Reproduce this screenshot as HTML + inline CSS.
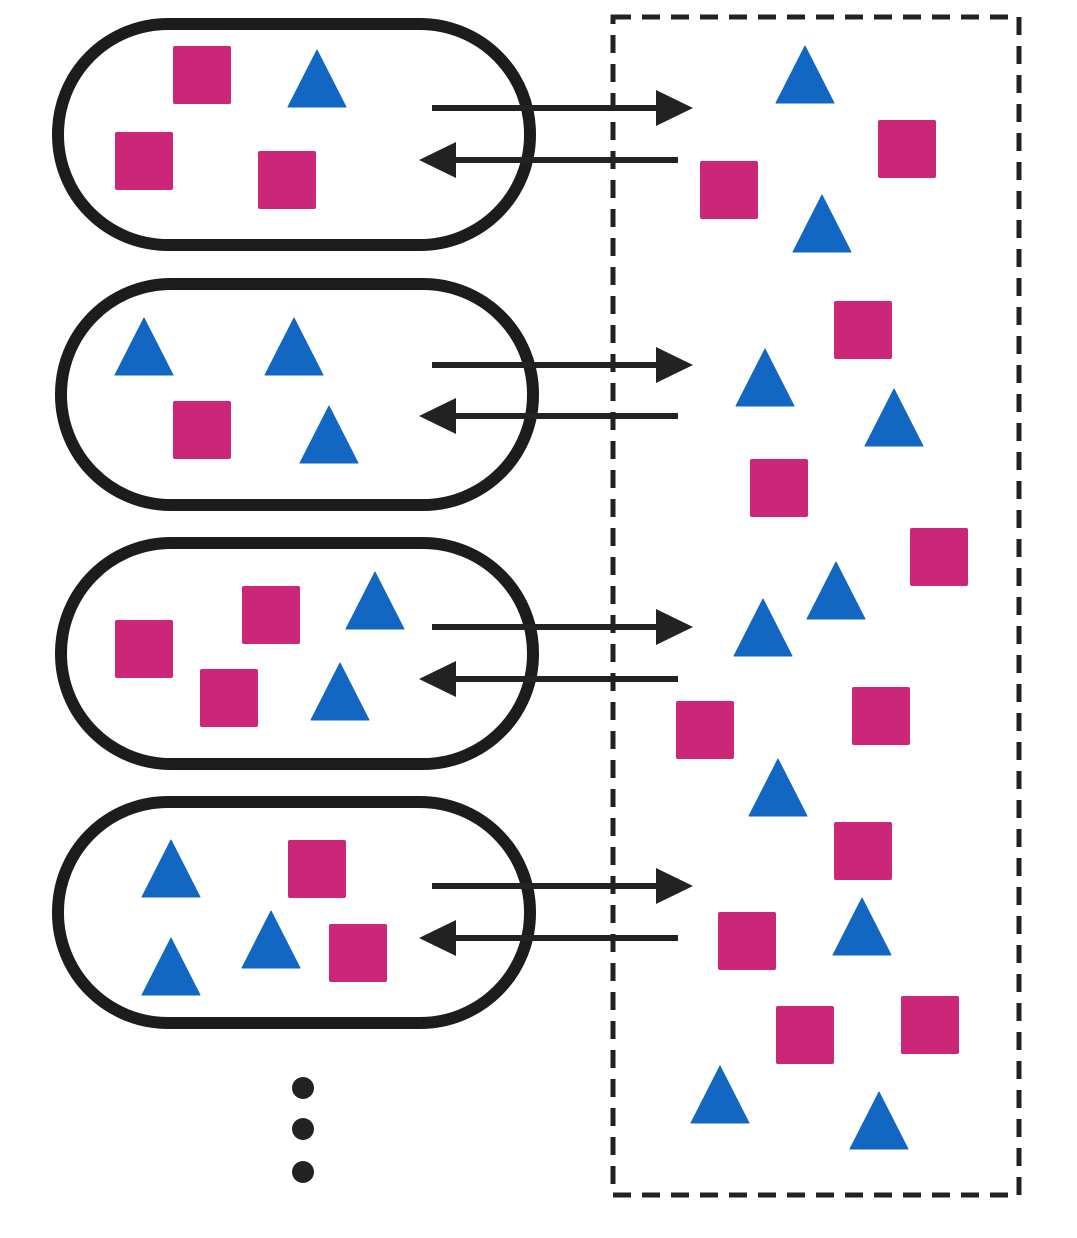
<!DOCTYPE html>
<html><head><meta charset="utf-8"><style>html,body{margin:0;padding:0;background:#fff}svg{display:block}</style></head>
<body>
<svg width="1077" height="1238" viewBox="0 0 1077 1238" xmlns="http://www.w3.org/2000/svg">
<defs>
<rect id="sq" width="58" height="58" rx="2" fill="#cc2678"/>
<polygon id="tr" points="29,0 58,57 0,57" fill="#1167c2" stroke="#1167c2" stroke-width="1" stroke-linejoin="round"/>
</defs>
<!-- dashed box -->
<rect x="613" y="17" width="406" height="1178" fill="none" stroke="#222" stroke-width="5" stroke-dasharray="18,11"/>
<!-- capsules -->
<g fill="none" stroke="#1c1c1c" stroke-width="12">
<rect x="58" y="24" width="472" height="221" rx="110"/>
<rect x="61" y="284" width="472" height="221" rx="110"/>
<rect x="61" y="543" width="472" height="221" rx="110"/>
<rect x="58" y="802" width="472" height="221" rx="110"/>
</g>
<!-- arrows -->
<g fill="#222" stroke="#222">
<g transform="translate(0,108)"><line x1="432" y1="0" x2="662" y2="0" stroke-width="6"/><polygon points="656,-18 693,0 656,18" stroke="none"/></g>
<g transform="translate(0,160)"><line x1="678" y1="0" x2="450" y2="0" stroke-width="6"/><polygon points="456,-18 419,0 456,18" stroke="none"/></g>
<g transform="translate(0,365)"><line x1="432" y1="0" x2="662" y2="0" stroke-width="6"/><polygon points="656,-18 693,0 656,18" stroke="none"/></g>
<g transform="translate(0,416)"><line x1="678" y1="0" x2="450" y2="0" stroke-width="6"/><polygon points="456,-18 419,0 456,18" stroke="none"/></g>
<g transform="translate(0,627)"><line x1="432" y1="0" x2="662" y2="0" stroke-width="6"/><polygon points="656,-18 693,0 656,18" stroke="none"/></g>
<g transform="translate(0,679)"><line x1="678" y1="0" x2="450" y2="0" stroke-width="6"/><polygon points="456,-18 419,0 456,18" stroke="none"/></g>
<g transform="translate(0,886)"><line x1="432" y1="0" x2="662" y2="0" stroke-width="6"/><polygon points="656,-18 693,0 656,18" stroke="none"/></g>
<g transform="translate(0,938)"><line x1="678" y1="0" x2="450" y2="0" stroke-width="6"/><polygon points="456,-18 419,0 456,18" stroke="none"/></g>
</g>
<!-- capsule contents -->
<use href="#sq" x="173" y="46"/><use href="#tr" x="288" y="50"/><use href="#sq" x="115" y="132"/><use href="#sq" x="258" y="151"/>
<use href="#tr" x="115" y="318"/><use href="#tr" x="265" y="318"/><use href="#sq" x="173" y="401"/><use href="#tr" x="300" y="406"/>
<use href="#sq" x="242" y="586"/><use href="#tr" x="346" y="572"/><use href="#sq" x="115" y="620"/><use href="#sq" x="200" y="669"/><use href="#tr" x="311" y="663"/>
<use href="#tr" x="142" y="840"/><use href="#sq" x="288" y="840"/><use href="#tr" x="242" y="911"/><use href="#sq" x="329" y="924"/><use href="#tr" x="142" y="938"/>
<!-- dots -->
<g fill="#222"><circle cx="303" cy="1088" r="11"/><circle cx="303" cy="1129" r="11"/><circle cx="303" cy="1172" r="11"/></g>
<!-- right side -->
<use href="#tr" x="776" y="46"/><use href="#sq" x="878" y="120"/><use href="#sq" x="700" y="161"/><use href="#tr" x="793" y="195"/>
<use href="#sq" x="834" y="301"/><use href="#tr" x="736" y="349"/><use href="#tr" x="865" y="389"/><use href="#sq" x="750" y="459"/>
<use href="#sq" x="910" y="528"/><use href="#tr" x="807" y="562"/><use href="#tr" x="734" y="599"/><use href="#sq" x="676" y="701"/>
<use href="#sq" x="852" y="687"/><use href="#tr" x="749" y="759"/><use href="#sq" x="834" y="822"/><use href="#sq" x="718" y="912"/>
<use href="#tr" x="833" y="898"/><use href="#sq" x="776" y="1006"/><use href="#sq" x="901" y="996"/><use href="#tr" x="691" y="1066"/>
<use href="#tr" x="850" y="1092"/>
</svg>
</body></html>
